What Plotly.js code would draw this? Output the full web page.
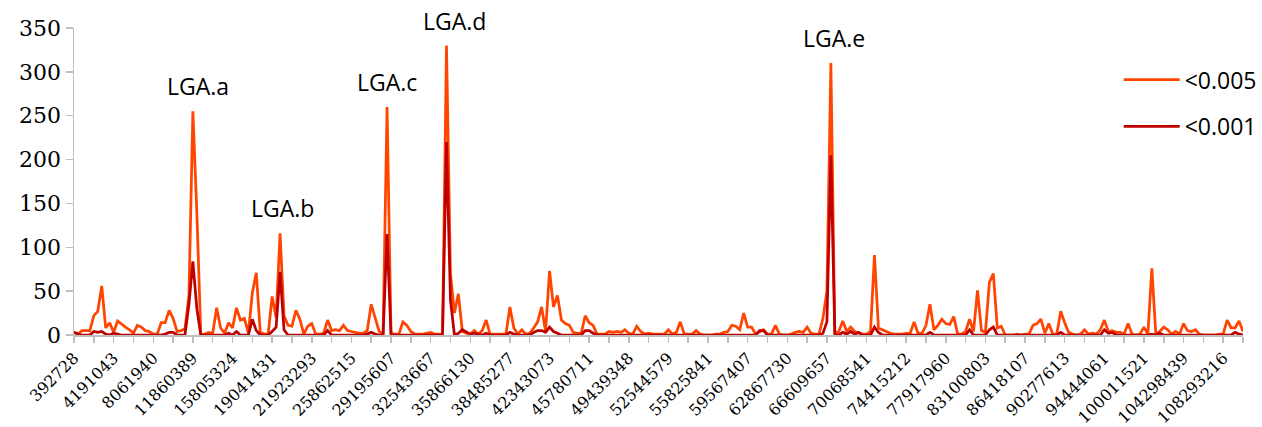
<!DOCTYPE html>
<html>
<head>
<meta charset="utf-8">
<script src="https://cdn.plot.ly/plotly-3.0.1.min.js"></script>
<style>
  html, body { margin: 0; padding: 0; background: #ffffff; }
  #chart { width: 1262px; height: 427px; }
</style>
</head>
<body>
<div id="chart"></div>
<script>
// Position labels shown on the x axis, one every 10 windows
const tickLabels = [
  '392728', '4191043', '8061940', '11860389', '15805324', '19041431',
  '21923293', '25862515', '29195607', '32543667', '35866130', '38485277',
  '42343073', '45780711', '49439348', '52544579', '55825841', '59567407',
  '62867730', '66609657', '70068541', '74415212', '77917960', '83100803',
  '86418107', '90277613', '94444061', '100011521', '104298439', '108293216'
];

// Counts per window, p < 0.005
const p005 = [
  3, 1, 5, 5, 5, 22, 27, 56, 8, 14,
  3, 16, 12, 9, 6, 2, 11, 9, 5, 4,
  1, 1, 14, 14, 28, 19, 4, 5, 7, 45,
  255, 140, 0, 1, 3, 2, 31, 8, 2, 14,
  8, 31, 17, 19, 2, 48, 71, 3, 1, 1,
  44, 20, 116, 22, 11, 10, 28, 18, 1, 10,
  13, 1, 1, 2, 17, 5, 6, 5, 11, 5,
  4, 3, 2, 2, 5, 35, 20, 4, 1, 260,
  2, 1, 1, 15, 11, 4, 1, 1, 1, 2,
  3, 1, 1, 1, 330, 70, 25, 47, 4, 2,
  1, 5, 1, 5, 17, 1, 1, 1, 1, 1,
  32, 8, 1, 6, 1, 2, 8, 15, 32, 4,
  73, 32, 45, 17, 13, 11, 3, 2, 2, 22,
  14, 11, 1, 1, 1, 4, 3, 4, 3, 6,
  2, 1, 10, 4, 1, 2, 1, 1, 1, 1,
  6, 1, 3, 15, 1, 1, 1, 5, 1, 0,
  0, 0, 1, 1, 3, 4, 11, 10, 6, 25,
  9, 9, 1, 4, 6, 1, 1, 11, 1, 0,
  0, 1, 3, 4, 3, 9, 2, 1, 1, 19,
  50, 310, 1, 4, 16, 4, 9, 4, 2, 1,
  1, 4, 91, 8, 6, 4, 2, 1, 1, 1,
  2, 2, 15, 2, 2, 11, 35, 6, 11, 18,
  13, 12, 21, 1, 1, 4, 18, 4, 51, 5,
  3, 60, 70, 8, 10, 0, 0, 0, 1, 0,
  1, 1, 11, 13, 18, 2, 13, 1, 1, 27,
  14, 3, 1, 0, 1, 6, 1, 2, 1, 6,
  17, 4, 5, 3, 3, 1, 13, 1, 0, 1,
  9, 1, 76, 1, 4, 9, 6, 1, 4, 1,
  13, 5, 4, 6, 1, 0, 0, 0, 0, 1,
  1, 17, 8, 8, 16, 4
];

// Counts per window, p < 0.001
const p001 = [
  3, 1, 0, 0, 0, 4, 3, 4, 1, 0,
  2, 1, 0, 0, 0, 0, 0, 0, 0, 0,
  0, 0, 0, 1, 3, 3, 0, 0, 0, 35,
  84, 30, 0, 0, 0, 0, 0, 0, 0, 2,
  0, 4, 0, 0, 0, 18, 5, 0, 0, 0,
  4, 9, 72, 6, 0, 0, 0, 0, 0, 0,
  0, 0, 0, 0, 5, 0, 0, 0, 0, 0,
  0, 0, 0, 0, 1, 3, 1, 0, 0, 115,
  0, 0, 0, 0, 0, 0, 0, 0, 0, 0,
  0, 0, 0, 0, 220, 40, 0, 2, 6, 3,
  1, 2, 1, 0, 2, 0, 0, 0, 0, 0,
  3, 1, 0, 0, 0, 0, 3, 5, 5, 3,
  9, 4, 2, 0, 0, 0, 0, 0, 0, 5,
  5, 2, 0, 0, 0, 0, 0, 0, 0, 0,
  0, 0, 0, 0, 0, 0, 0, 0, 0, 0,
  0, 0, 0, 0, 0, 0, 0, 0, 0, 0,
  0, 0, 0, 0, 0, 0, 0, 0, 0, 0,
  0, 0, 0, 5, 5, 0, 0, 0, 0, 0,
  0, 0, 0, 0, 0, 0, 0, 0, 0, 2,
  15, 205, 0, 0, 3, 1, 4, 1, 3, 0,
  0, 0, 9, 3, 0, 0, 0, 0, 0, 0,
  0, 0, 0, 0, 0, 0, 3, 0, 0, 0,
  0, 0, 0, 0, 0, 0, 6, 0, 0, 0,
  0, 6, 9, 0, 0, 0, 0, 0, 0, 0,
  0, 0, 0, 0, 0, 0, 0, 0, 0, 3,
  0, 0, 0, 0, 0, 0, 0, 0, 0, 0,
  6, 2, 3, 0, 0, 0, 0, 0, 0, 0,
  0, 0, 1, 0, 2, 0, 0, 0, 0, 0,
  0, 0, 0, 0, 0, 0, 0, 0, 0, 0,
  0, 0, 0, 3, 1, 0
];

// Named peaks, the window each one sits on, and a small sideways nudge for its label
const peakNames = ['LGA.a', 'LGA.b', 'LGA.c', 'LGA.d', 'LGA.e'];
const peakWindows = [30, 52, 79, 94, 191];
const peakNudge = [5, 2, 0, 8, 3];

const seriesNames = ['<0.005', '<0.001'];
const seriesColors = ['#FF4500', '#C00000'];

const LABEL_STEP = 10;   // one label every 10 windows
const TICK_STEP = 5;     // one tick mark every 5 windows

const idx = p005.map((_, i) => i);
const lastIdx = idx.length - 1;

const tickVals = [];
const tickText = [];
for (let v = 0; v <= lastIdx; v += TICK_STEP) {
  tickVals.push(v);
  tickText.push(v % LABEL_STEP === 0 ? tickLabels[v / LABEL_STEP] : '');
}

const traces = [p005, p001].map((ys, k) => ({
  type: 'scatter',
  mode: 'lines',
  x: idx,
  y: ys,
  name: seriesNames[k],
  legendgroup: 'g' + k,
  line: { color: seriesColors[k], width: 2.75 },
  hoverinfo: 'x+y+name'
}));

const sans = 'Open Sans';
const serif = 'DejaVu Serif';
const axisGrey = '#BFBFBF';

const annotations = peakNames.map((name, k) => ({
  x: peakWindows[k],
  y: p005[peakWindows[k]],
  xref: 'x',
  yref: 'y',
  text: name,
  showarrow: false,
  yanchor: 'bottom',
  yshift: 7,
  xshift: peakNudge[k],
  font: { family: sans, size: 23, color: '#000000' }
}));

const layout = {
  width: 1262,
  height: 427,
  font: { family: serif, size: 16, color: '#000000' },
  margin: { l: 74, r: 19, t: 28, b: 92, autoexpand: false },
  paper_bgcolor: '#ffffff',
  plot_bgcolor: '#ffffff',
  showlegend: true,
  legend: {
    x: 1.016,
    y: 0.902,
    xanchor: 'right',
    yanchor: 'top',
    bgcolor: 'rgba(255,255,255,0)',
    font: { family: sans, size: 23, color: '#000000' },
    tracegroupgap: 14,
    itemwidth: 56
  },
  xaxis: {
    range: [0, lastIdx],
    tickmode: 'array',
    tickvals: tickVals,
    ticktext: tickText,
    tickangle: -45,
    ticks: 'outside',
    ticklen: 6,
    tickwidth: 1.5,
    tickcolor: axisGrey,
    showline: true,
    linecolor: axisGrey,
    linewidth: 1.5,
    showgrid: false,
    zeroline: false,
    automargin: false,
    tickfont: { family: serif, size: 16, color: '#000000' }
  },
  yaxis: {
    range: [0, 350],
    tickmode: 'linear',
    tick0: 0,
    dtick: 50,
    ticks: 'outside',
    ticklen: 7,
    tickwidth: 1.5,
    tickcolor: axisGrey,
    showline: true,
    linecolor: axisGrey,
    linewidth: 1.5,
    showgrid: false,
    zeroline: false,
    automargin: false,
    tickfont: { family: serif, size: 22, color: '#000000' }
  },
  annotations: annotations
};

Plotly.newPlot('chart', traces, layout, { displayModeBar: false, staticPlot: true });
</script>
</body>
</html>
